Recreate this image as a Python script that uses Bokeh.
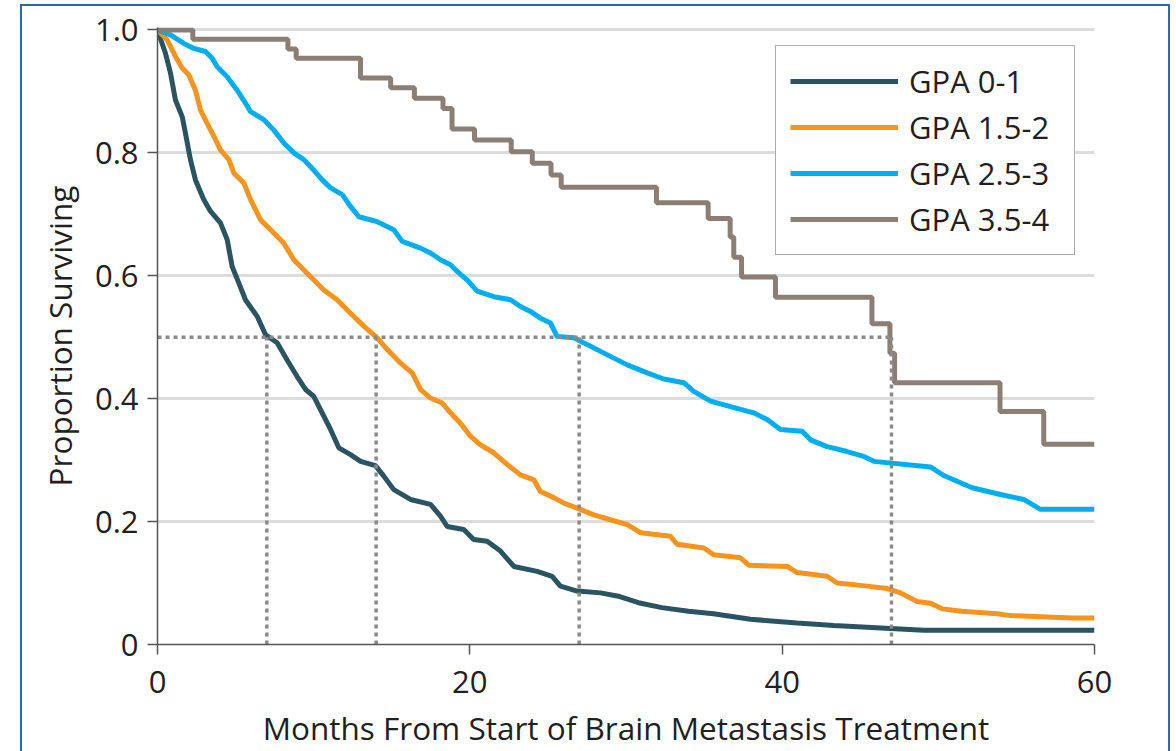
from bokeh.plotting import figure
from bokeh.models import Range1d, FixedTicker
from bokeh.embed import file_html
from bokeh.resources import INLINE

# ---------------- data ----------------
series_names = ["GPA 0-1", "GPA 1.5-2", "GPA 2.5-3", "GPA 3.5-4"]
series_colors = ["#2a5461", "#f7941d", "#00aeef", "#8b7f75"]

months_gpa_0_1 = [0, 0.51, 0.83, 1.15, 1.58, 1.79, 2.11, 2.43, 2.96, 3.39, 4.03, 4.46, 4.78,
                  5.21, 5.63, 6.38, 6.92, 7.66, 8.3, 8.94, 9.48, 10.0, 10.44, 11.08, 11.61,
                  12.36, 13.0, 13.96, 14.49, 15.13, 16.2, 17.48, 18.12, 18.55, 19.61, 20.25,
                  21.11, 21.96, 22.82, 24.31, 25.27, 25.8, 26.87, 28.37, 29.6, 30.8, 32.3,
                  34.0, 35.6, 37.97, 40.96, 43.3, 49.07, 60]
surv_gpa_0_1 = [1.0, 0.962, 0.930, 0.886, 0.859, 0.832, 0.789, 0.756, 0.724, 0.705, 0.686, 0.659, 0.615,
                0.588, 0.561, 0.534, 0.504, 0.491, 0.463, 0.436, 0.415, 0.404, 0.382, 0.350, 0.320,
                0.309, 0.298, 0.291, 0.274, 0.252, 0.236, 0.228, 0.209, 0.192, 0.187, 0.171,
                0.168, 0.152, 0.127, 0.119, 0.111, 0.095, 0.087, 0.084, 0.078, 0.068, 0.060,
                0.054, 0.050, 0.041, 0.035, 0.031, 0.023, 0.023]

months_gpa_15_2 = [0, 0.62, 1.15, 1.58, 2.0, 2.43, 2.75, 3.18, 3.61, 4.03, 4.57, 4.89, 5.53, 5.96,
                   6.6, 7.24, 8.09, 8.73, 9.58, 10.65, 11.5, 12.36, 13.21, 14.07, 14.71, 15.56,
                   16.31, 16.84, 17.48, 18.23, 18.76, 19.4, 20.04, 20.68, 21.53, 22.39, 23.24,
                   24.1, 24.52, 25.38, 26.02, 26.87, 27.94, 29.0, 30.08, 30.93, 32.85, 33.28,
                   34.98, 35.62, 37.33, 37.86, 40.32, 40.96, 42.88, 43.52, 45.44, 46.72, 47.58,
                   48.64, 49.5, 50.25, 51.5, 53.77, 54.62, 58.57, 60]
surv_gpa_15_2 = [1.0, 0.984, 0.957, 0.938, 0.927, 0.902, 0.870, 0.848, 0.827, 0.805, 0.789, 0.767, 0.751, 0.724,
                 0.691, 0.675, 0.653, 0.626, 0.604, 0.577, 0.561, 0.539, 0.518, 0.499, 0.480, 0.458,
                 0.442, 0.415, 0.401, 0.393, 0.377, 0.360, 0.339, 0.325, 0.312, 0.293, 0.276,
                 0.268, 0.249, 0.239, 0.230, 0.222, 0.211, 0.203, 0.195, 0.182, 0.176, 0.163,
                 0.157, 0.146, 0.141, 0.129, 0.127, 0.117, 0.111, 0.100, 0.095, 0.091, 0.084,
                 0.070, 0.067, 0.058, 0.054, 0.050, 0.047, 0.043, 0.043]

months_gpa_25_3 = [0, 0.83, 1.69, 2.33, 3.07, 3.5, 3.82, 4.46, 5.1, 5.63, 5.96, 6.81, 7.45, 8.09,
                   8.73, 9.37, 10.0, 10.55, 11.08, 11.83, 12.36, 12.89, 14.07, 15.13, 15.67, 16.84,
                   17.48, 18.12, 18.76, 19.19, 19.83, 20.47, 21.53, 22.6, 23.24, 23.88, 24.52,
                   25.17, 25.59, 26.66, 27.51, 28.37, 29.22, 30.08, 31.36, 32.42, 33.7, 34.34,
                   35.41, 36.69, 38.18, 39.04, 39.89, 41.28, 41.81, 42.88, 44.16, 45.23, 45.87,
                   49.5, 50.35, 52.16, 53.98, 55.47, 56.54, 60]
surv_gpa_25_3 = [1.0, 0.992, 0.978, 0.970, 0.965, 0.954, 0.940, 0.924, 0.902, 0.881, 0.867, 0.854, 0.837, 0.816,
                 0.800, 0.789, 0.772, 0.756, 0.743, 0.732, 0.713, 0.696, 0.688, 0.675, 0.656, 0.645,
                 0.637, 0.626, 0.618, 0.607, 0.593, 0.575, 0.566, 0.561, 0.550, 0.542, 0.531,
                 0.523, 0.501, 0.499, 0.488, 0.477, 0.466, 0.455, 0.442, 0.432, 0.426, 0.412,
                 0.396, 0.387, 0.377, 0.366, 0.350, 0.347, 0.333, 0.322, 0.314, 0.306, 0.298,
                 0.289, 0.275, 0.255, 0.244, 0.236, 0.220, 0.220]

months_gpa_35_4 = [0, 2.26, 8.35, 8.88, 13.0, 14.93, 16.45, 18.28, 18.86, 20.3, 22.65, 24.0, 25.2,
                   25.85, 31.95, 35.26, 36.67, 36.9, 37.4, 39.57, 45.75, 46.9, 47.2, 53.95, 56.75, 60]
surv_gpa_35_4 = [1.0, 0.985, 0.969, 0.954, 0.922, 0.906, 0.889, 0.872, 0.839, 0.821, 0.802, 0.783, 0.764,
                 0.744, 0.719, 0.693, 0.663, 0.630, 0.598, 0.565, 0.522, 0.474, 0.426, 0.379, 0.326, 0.326]

median_months = [7.0, 14.0, 27.0, 47.0]
median_level = 0.5

x_ticks = [0, 20, 40, 60]
y_ticks = [0, 0.2, 0.4, 0.6, 0.8, 1.0]
y_tick_labels = ["0", "0.2", "0.4", "0.6", "0.8", "1.0"]
x_title = "Months From Start of Brain Metastasis Treatment"
y_title = "Proportion Surviving"

# ---------------- figure ----------------
FONT = "Open Sans"
TEXT = "#231f20"
AXIS = "#555555"
BORDER = "#2a6ab4"

W, H = 1176, 751
p = figure(width=W, height=H, x_range=Range1d(0, 60), y_range=Range1d(0, 1.004),
           output_backend="svg", toolbar_location=None,
           min_border_left=157, min_border_right=82, min_border_top=27, min_border_bottom=106)
p.background_fill_color = "white"
p.border_fill_alpha = 0
p.outline_line_color = None
# outer blue frame drawn as css background behind the (transparent) canvas border area
p.styles = {
    "background-color": "white",
    "background-image": ", ".join([f"linear-gradient({BORDER}, {BORDER})"] * 3),
    "background-size": "2px 760px, 2px 760px, 1150px 2px",
    "background-position": "20px 4px, 1168px 4px, 20px 4px",
    "background-repeat": "no-repeat",
}

p.xgrid.visible = False
p.ygrid.ticker = FixedTicker(ticks=y_ticks[1:])
p.ygrid.grid_line_color = "#dcdcdc"
p.ygrid.grid_line_width = 3

p.xaxis.ticker = FixedTicker(ticks=x_ticks)
p.yaxis.ticker = FixedTicker(ticks=y_ticks)
p.yaxis.major_label_overrides = {t: lab for t, lab in zip(y_ticks, y_tick_labels)}
p.xaxis.axis_label = x_title
p.yaxis.axis_label = y_title

for ax in (p.xaxis[0], p.yaxis[0]):
    ax.axis_line_color = AXIS
    ax.axis_line_width = 1.5
    ax.major_tick_line_color = AXIS
    ax.major_tick_line_width = 1.5
    ax.major_tick_out = 10
    ax.major_tick_in = 0
    ax.minor_tick_line_color = None
    ax.major_label_text_font = FONT
    ax.major_label_text_font_size = "31px"
    ax.major_label_text_color = TEXT
    ax.axis_label_text_font = FONT
    ax.axis_label_text_font_size = "31.5px"
    ax.axis_label_text_font_style = "normal"
    ax.axis_label_text_color = TEXT

p.xaxis.major_label_standoff = 16
p.xaxis.axis_label_standoff = 10
p.yaxis.major_label_standoff = 9
p.yaxis.axis_label_standoff = 11

all_months = [months_gpa_0_1, months_gpa_15_2, months_gpa_25_3, months_gpa_35_4]
all_surv = [surv_gpa_0_1, surv_gpa_15_2, surv_gpa_25_3, surv_gpa_35_4]
for i, (name, color, xs, ys) in enumerate(zip(series_names, series_colors, all_months, all_surv)):
    if i < 3:
        p.line(xs, ys, line_color=color, line_width=5, legend_label=name)
    else:
        p.step(xs, ys, mode="after", line_color=color, line_width=5, legend_label=name)

# median reference lines
p.segment(x0=median_months, y0=[0] * len(median_months),
          x1=median_months, y1=[median_level] * len(median_months),
          line_color="#8a8a8a", line_width=3.5, line_dash="4 4")
p.line(x=[0, max(median_months)], y=[median_level, median_level],
       line_color="#8a8a8a", line_width=3.5, line_dash="4 4")

lg = p.legend[0]
lg.location = (618, 389)
lg.padding = 14
lg.spacing = 4
lg.label_height = 38
lg.glyph_height = 38
lg.glyph_width = 108
lg.label_standoff = 11
lg.label_width = 151
lg.border_line_color = "#555555"
lg.border_line_width = 1.5
lg.background_fill_color = "white"
lg.background_fill_alpha = 1.0
lg.label_text_font = FONT
lg.label_text_font_size = "31px"
lg.label_text_color = TEXT

open("out.html", "w").write(file_html(p, INLINE))
